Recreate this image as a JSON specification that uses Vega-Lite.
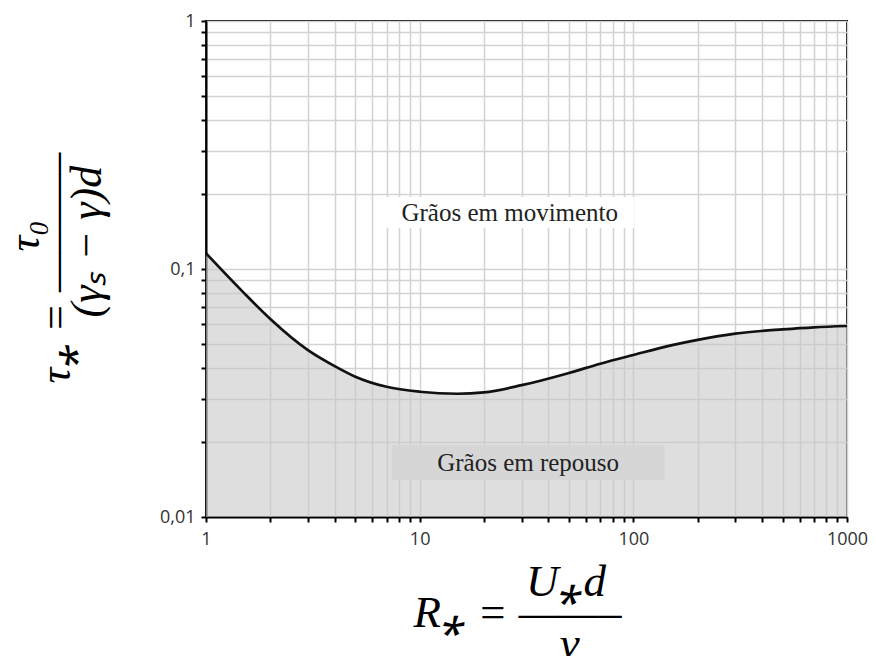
{
  "$schema": "https://vega.github.io/schema/vega-lite/v6.json",
  "autosize": "none",
  "padding": {"left": 206, "top": 21, "right": 29, "bottom": 139},
  "width": 641,
  "height": 496,
  "background": "white",
  "config": {
    "view": {"stroke": "black", "strokeWidth": 2},
    "axis": {
      "domainColor": "black",
      "domainWidth": 2,
      "tickColor": "black",
      "tickWidth": 2,
      "tickSize": 5,
      "gridColor": "#d3d3d3",
      "gridWidth": 1.5,
      "labelFont": "Open Sans",
      "labelFontSize": 18,
      "labelColor": "#333333",
      "labelOverlap": false,
      "labelFlush": false,
      "titleColor": "black",
      "titleLineHeight": 31
    }
  },
  "datasets": {
    "curve": [
      {"R": 1, "tau": 0.1157},
      {"R": 1.5, "tau": 0.0803},
      {"R": 2, "tau": 0.0629},
      {"R": 3, "tau": 0.0471},
      {"R": 4, "tau": 0.0406},
      {"R": 5, "tau": 0.0368},
      {"R": 7, "tau": 0.0335},
      {"R": 10, "tau": 0.0320},
      {"R": 15, "tau": 0.0314},
      {"R": 20, "tau": 0.0318},
      {"R": 30, "tau": 0.0340},
      {"R": 50, "tau": 0.0381},
      {"R": 70, "tau": 0.0415},
      {"R": 100, "tau": 0.0450},
      {"R": 150, "tau": 0.0492},
      {"R": 200, "tau": 0.0518},
      {"R": 300, "tau": 0.0549},
      {"R": 500, "tau": 0.0571},
      {"R": 700, "tau": 0.0582},
      {"R": 1000, "tau": 0.0589}
    ],
    "boxes": [
      {"label": "Grãos em movimento", "R": 6.9, "R2": 101, "tau": 0.195, "tau2": 0.1463},
      {"label": "Grãos em repouso", "R": 7.4, "R2": 140, "tau": 0.0195, "tau2": 0.0141}
    ]
  },
  "encoding": {
    "x": {
      "field": "R",
      "type": "quantitative",
      "scale": {"type": "log", "domain": [1, 1000], "nice": false},
      "axis": {
        "values": [1,2,3,4,5,6,7,8,9,10,20,30,40,50,60,70,80,90,100,200,300,400,500,600,700,800,900,1000],
        "labelExpr": "datum.value == 1 ? '1' : datum.value == 10 ? '10' : datum.value == 100 ? '100' : datum.value == 1000 ? '1000' : ''",
        "labelPadding": 8,
        "title": ["\u200b\u00a0\u00a0\u00a0\u00a0\u00a0\u00a0\u00a0\u00a0\u00a0\u00a0U\u204ed", "R\u204e = \u2014\u2014\u2013", "\u200b\u00a0\u00a0\u00a0\u00a0\u00a0\u00a0\u00a0\u00a0\u00a0\u00a0\u00a0\u00a0\u00a0\u03bd"],
        "titleFont": "Liberation Serif",
        "titleFontStyle": "italic",
        "titleFontWeight": "normal",
        "titleFontSize": 45,
        "titleAlign": "left",
        "titleAnchor": null,
        "titleBaseline": "alphabetic",
        "titleX": 207,
        "titleY": 78
      }
    },
    "y": {
      "field": "tau",
      "type": "quantitative",
      "scale": {"type": "log", "domain": [0.01, 1], "nice": false},
      "axis": {
        "values": [0.01,0.02,0.03,0.04,0.05,0.06,0.07,0.08,0.09,0.1,0.2,0.3,0.4,0.5,0.6,0.7,0.8,0.9,1],
        "labelExpr": "datum.value == 0.01 ? '0,01' : datum.value == 0.1 ? '0,1' : datum.value == 1 ? '1' : ''",
        "labelPadding": 6,
        "title": ["\u200b\u00a0\u00a0\u00a0\u00a0\u00a0\u00a0\u00a0\u00a0\u00a0\u00a0\u00a0\u00a0\u03c4\u2080", "\u03c4\u204e = \u2014\u2014\u2014\u2013", "\u200b\u00a0\u00a0\u00a0\u00a0\u00a0\u00a0(\u03b3\u209b \u2212 \u03b3)d"],
        "titleFont": "Liberation Serif",
        "titleFontStyle": "italic",
        "titleFontWeight": "normal",
        "titleFontSize": 44,
        "titleAngle": -90,
        "titleAlign": "left",
        "titleAnchor": null,
        "titleBaseline": "alphabetic",
        "titleX": -168,
        "titleY": 362
      }
    }
  },
  "layer": [
    {
      "data": {"name": "curve"},
      "mark": {"type": "area", "interpolate": "monotone", "color": "#c8c8c8", "opacity": 0.6},
      "encoding": {"y2": {"datum": 0.01}}
    },
    {
      "data": {"name": "boxes"},
      "transform": [{"filter": "datum.label == 'Grãos em movimento'"}],
      "mark": {"type": "rect", "color": "white"},
      "encoding": {"x2": {"field": "R2"}, "y2": {"field": "tau2"}}
    },
    {
      "data": {"name": "boxes"},
      "transform": [{"filter": "datum.label == 'Grãos em repouso'"}],
      "mark": {"type": "rect", "color": "#d6d6d6"},
      "encoding": {"x2": {"field": "R2"}, "y2": {"field": "tau2"}}
    },
    {
      "data": {"name": "curve"},
      "mark": {"type": "line", "interpolate": "monotone", "color": "#111111", "strokeWidth": 2.7},
      "encoding": {}
    },
    {
      "data": {"name": "boxes"},
      "transform": [
        {"calculate": "sqrt(datum.R * datum.R2)", "as": "xc"},
        {"calculate": "sqrt(datum.tau * datum.tau2)", "as": "yc"}
      ],
      "mark": {"type": "text", "font": "Liberation Serif", "fontSize": 25, "color": "#222222", "baseline": "middle", "align": "center"},
      "encoding": {
        "x": {"field": "xc", "type": "quantitative"},
        "y": {"field": "yc", "type": "quantitative"},
        "text": {"field": "label"}
      }
    }
  ]
}
